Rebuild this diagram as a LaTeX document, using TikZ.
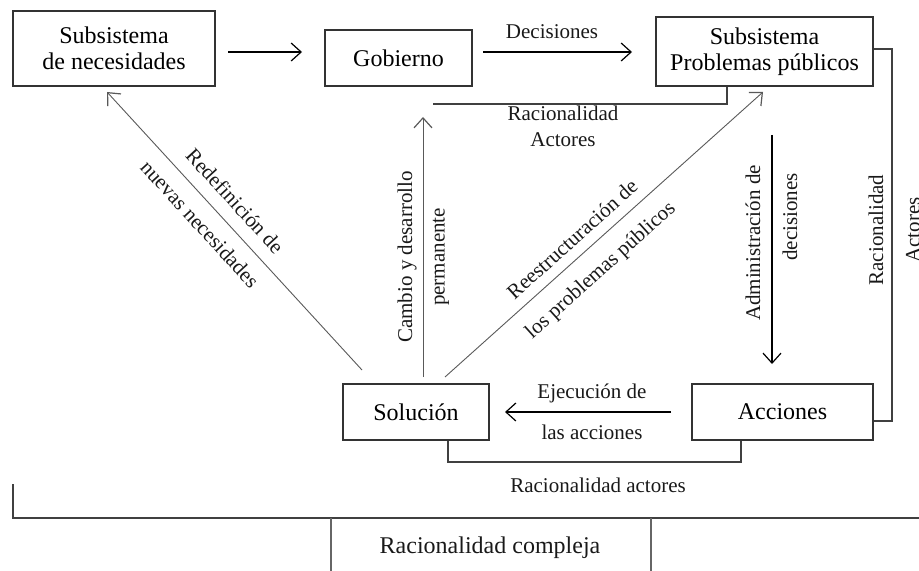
\documentclass[tikz,border=0pt]{standalone}
\usepackage{fontspec}
\setmainfont{Liberation Serif}
\usetikzlibrary{arrows.meta}
\tikzset{
  box/.style={draw=black!80, line width=0.6pt, inner sep=1pt, align=center, font=\fontsize{12}{13}\selectfont},
  lbl/.style={inner sep=0pt, align=center, font=\fontsize{10.5}{12}\selectfont, text=black!90},
  arr/.style={line width=0.6pt, -{Straight Barb[length=5pt,width=9pt,line width=0.6pt]}},
  garr/.style={draw=black!65, line width=0.45pt, -{Straight Barb[length=5pt,width=9pt,line width=0.6pt]}},
  conn/.style={draw=black!75, line width=0.6pt}
}
\begin{document}
\begin{tikzpicture}[x=0.5pt,y=-0.5pt]
\useasboundingbox (0,0) rectangle (919,571);
% boxes
\node[box, minimum width=101pt, minimum height=37.5pt] (nec) at (114,48.5) {Subsistema\\de necesidades};
\node[box, minimum width=73.5pt, minimum height=28pt] (gob) at (398.5,58) {Gobierno};
\node[box, minimum width=108.5pt, minimum height=34.5pt] (spp) at (764.5,51.5) {Subsistema\\Problemas públicos};
\node[box, minimum width=73pt, minimum height=28pt] (sol) at (416,412) {Solución};
\node[box, minimum width=90.5pt, minimum height=28pt] (acc) at (782.5,412) {Acciones};
% free coordinates
\coordinate (a1) at (228,52); \coordinate (a2) at (302,52);
\coordinate (d1) at (483,52); \coordinate (d2) at (632,52);
\coordinate (r1) at (433,104); \coordinate (r2) at (727,104);
\coordinate (c1) at (423,377); \coordinate (c2) at (423,117);
\coordinate (n1) at (362,370); \coordinate (n2) at (107,92);
\coordinate (p1) at (445,377); \coordinate (p2) at (763,92);
\coordinate (m1) at (772,135); \coordinate (m2) at (772,364);
\coordinate (e1) at (671,412); \coordinate (e2) at (505,412);
\coordinate (q1) at (892,49); \coordinate (q2) at (892,421);
\coordinate (s1) at (448,462); \coordinate (s2) at (741,462);
\coordinate (b0) at (13,484); \coordinate (b1) at (13,518); \coordinate (b2) at (919,518);
\coordinate (v1) at (331,518); \coordinate (v2) at (331,571);
\coordinate (w1) at (651,518); \coordinate (w2) at (651,571);
% arrows
\draw[arr] (a1) -- (a2);
\draw[arr] (d1) -- (d2);
\node[lbl] (tdec) at (552,32) {Decisiones};
\draw[conn] (r1) -- (r2) -- (r2 |- spp.south);
\node[lbl] (tra1) at (563,126) {Racionalidad\\[1pt]Actores};
\draw[garr] (c1) -- (c2);
\node[lbl, rotate=90] (tcam) at (407,257) {Cambio y desarrollo};
\node[lbl, rotate=90] (tper) at (441,257) {permanente};
\draw[garr] (n1) -- (n2);
\node[lbl, rotate=-47.5] (tred) at (235,201) {Redefinición de};
\node[lbl, rotate=-47.5] (tnue) at (200,224) {nuevas necesidades};
\draw[garr] (p1) -- (p2);
\node[lbl, rotate=42] (tres) at (572,239) {Reestructuración de};
\node[lbl, rotate=42] (tlos) at (601,271) {los problemas públicos};
\draw[arr] (m1) -- (m2);
\node[lbl, rotate=90] (tadm) at (753,243) {Administración de};
\node[lbl, rotate=90] (tdcs) at (790,217) {decisiones};
\draw[arr] (e1) -- (e2);
\node[lbl] (teje) at (592,393) {Ejecución de};
\node[lbl] (tlas) at (592,432) {las acciones};
\draw[conn] (spp.east |- q1) -- (q1) -- (q2) -- (acc.east |- q2);
\node[lbl, rotate=90] (trac) at (876,230) {Racionalidad};
\node[lbl, rotate=90] (tact) at (913,230) {Actores};
\draw[conn] (s1 |- sol.south) -- (s1) -- (s2) -- (s2 |- acc.south);
\node[lbl] (trat) at (598,485) {Racionalidad actores};
\draw[conn] (b0) -- (b1) -- (b2);
\draw[conn, draw=black!60] (v1) -- (v2);
\draw[conn, draw=black!60] (w1) -- (w2);
\node[lbl, font=\fontsize{12}{13}\selectfont] (tcom) at (490,548) {Racionalidad compleja};
\end{tikzpicture}
\end{document}
